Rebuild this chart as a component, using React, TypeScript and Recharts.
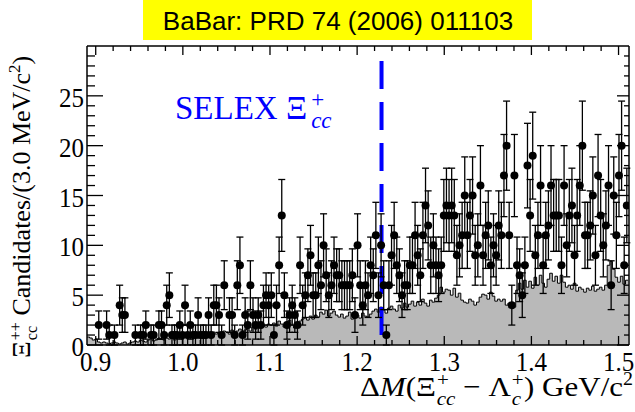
import React from "react";
import { Area, ComposedChart, ErrorBar, ReferenceLine, Scatter, XAxis, YAxis } from "recharts";

// 3 MeV bins starting at 0.89 GeV
const BIN_LO = 0.89;
const BIN_W = 0.003;
const X_MAX = 1.512;
const SELEX_DM = 1.228;

// data candidates per bin
const counts = [
  0, 0, 0, 0, 2, 0, 0, 2, 1, 0,
  1, 0, 4, 3, 3, 0, 0, 0, 1, 0,
  1, 1, 2, 0, 1, 1, 0, 2, 2, 1,
  4, 5, 1, 1, 1, 2, 1, 4, 1, 2,
  1, 1, 3, 1, 1, 1, 3, 1, 4, 4,
  3, 1, 6, 0, 3, 3, 1, 6, 8, 1,
  3, 2, 6, 3, 2, 3, 2, 4, 5, 4,
  5, 1, 4, 8, 13, 5, 2, 3, 4, 3,
  2, 8, 4, 5, 7, 9, 5, 5, 8, 6,
  10, 7, 5, 6, 8, 7, 7, 6, 6, 6,
  6, 7, 3, 10, 6, 4, 6, 5, 8, 7,
  11, 5, 10, 6, 1, 6, 9, 11, 8, 7,
  5, 6, 6, 8, 8, 11, 9, 7, 11, 14,
  12, 8, 10, 8, 7, 8, 13, 14, 13, 14,
  13, 9, 10, 11, 15, 11, 13, 15, 9, 10,
  16, 9, 11, 12, 8, 10, 9, 12, 11, 17,
  20, 11, 4, 17, 8, 7, 5, 8, 18, 13,
  19, 9, 11, 16, 8, 11, 12, 16, 13, 13,
  13, 8, 16, 10, 13, 14, 9, 13, 16, 20,
  11, 11, 12, 15, 9, 17, 13, 10, 12, 16,
  6, 15, 11, 17, 20, 8, 14,
];

// gray background histogram per bin
const background = [
  0.8, 0.7, 0.5, 0.6, 0.3, 0.2, 0.3, 0.2, 0.1, 0.2,
  0.3, 0.2, 0.1, 0.2, 0.3, 0.1, 0.2, 0.3, 0.4, 0.3,
  0.5, 0.4, 0.3, 0.5, 0.6, 0.4, 0.5, 0.7, 0.6, 0.5,
  0.7, 0.6, 0.8, 0.5, 0.7, 0.9, 0.6, 0.8, 0.7, 0.9,
  0.8, 1.0, 0.7, 0.9, 1.1, 0.8, 1.2, 1.0, 1.3, 1.1,
  1.2, 1.0, 1.4, 1.3, 1.1, 1.5, 1.2, 1.4, 1.6, 1.3,
  1.5, 1.7, 1.4, 1.8, 1.6, 1.9, 1.7, 2.0, 1.8, 2.1,
  2.0, 2.2, 1.9, 2.4, 2.1, 1.8, 2.3, 2.5, 2.0, 1.7,
  2.2, 2.4, 2.6, 2.7, 2.5, 2.9, 2.6, 3.0, 2.8, 3.3,
  3.1, 3.5, 2.9, 3.2, 3.4, 3.0, 2.8, 3.1, 2.7, 2.9,
  3.3, 2.6, 2.8, 3.0, 2.7, 3.2, 2.9, 2.8, 3.1, 3.4,
  3.6, 3.3, 3.8, 3.5, 3.2, 3.7, 3.9, 3.6, 3.4, 4.0,
  3.7, 4.2, 3.8, 4.1, 4.4, 3.9, 4.3, 4.0, 4.6, 4.2,
  3.9, 4.5, 4.3, 4.7, 5.0, 5.8, 5.3, 5.6, 5.5, 5.0,
  5.7, 4.8, 5.2, 4.5, 4.3, 4.2, 4.6, 4.4, 4.0, 4.3,
  4.8, 5.1, 5.0, 4.6, 5.3, 4.9, 4.4, 4.6, 4.4, 4.6,
  4.0, 4.2, 4.1, 3.8, 5.5, 6.2, 5.6, 6.5, 5.8, 6.4,
  5.7, 6.8, 6.0, 7.0, 6.2, 5.8, 6.6, 7.2, 6.4, 6.9,
  6.2, 7.0, 6.3, 5.8, 6.0, 5.6, 6.2, 5.4, 5.8, 5.6,
  5.3, 5.7, 5.5, 5.9, 5.4, 5.6, 5.8, 5.5, 6.0, 8.0,
  8.4, 7.6, 6.8, 6.3, 6.9, 6.1, 6.5,
];

const xTicks = [
  0.9, 0.92, 0.94, 0.96, 0.98, 1.0, 1.02, 1.04, 1.06, 1.08,
  1.1, 1.12, 1.14, 1.16, 1.18, 1.2, 1.22, 1.24, 1.26, 1.28,
  1.3, 1.32, 1.34, 1.36, 1.38, 1.4, 1.42, 1.44, 1.46, 1.48, 1.5,
];
const yTicks = [
  0, 1, 2, 3, 4, 5, 6, 7, 8, 9, 10, 11, 12, 13, 14, 15,
  16, 17, 18, 19, 20, 21, 22, 23, 24, 25, 26, 27, 28, 29,
];

const SERIF = "'Liberation Serif', 'DejaVu Serif', serif";
const W = 635;
const H = 412;

// histogram edges for the step area (last edge repeats last value)
const histData = background.map((v, i) => ({ x: BIN_LO + i * BIN_W, bg: v }));
histData.push({ x: BIN_LO + background.length * BIN_W, bg: background[background.length - 1] });

const points = counts
  .map((n, i) => ({ x: BIN_LO + (i + 0.5) * BIN_W, y: n, err: Math.sqrt(n) }))
  .filter((p) => p.y > 0);

const isMajorX = (v: number) => Math.abs(v * 10 - Math.round(v * 10)) < 1e-6;
const isMajorY = (v: number) => v % 5 === 0;

const BottomTick = (p: any) => {
  const v = p.payload.value;
  const major = isMajorX(v);
  return (
    <g>
      <line x1={p.x} x2={p.x} y1={p.y} y2={p.y - (major ? 9 : 5)} stroke="#000" strokeWidth={1.3} />
      {major && (
        <text
          transform={`translate(${p.x},${p.y + 26}) scale(1,1.1)`}
          textAnchor="middle"
          fontFamily={SERIF}
          fontSize={25}
          fill="#000"
        >
          {v.toFixed(1)}
        </text>
      )}
    </g>
  );
};

const TopTick = (p: any) => {
  const major = isMajorX(p.payload.value);
  return <line x1={p.x} x2={p.x} y1={p.y} y2={p.y + (major ? 9 : 5)} stroke="#000" strokeWidth={1.3} />;
};

const LeftTick = (p: any) => {
  const v = p.payload.value;
  const major = isMajorY(v);
  return (
    <g>
      <line x1={p.x} x2={p.x + (major ? 16 : 8)} y1={p.y} y2={p.y} stroke="#000" strokeWidth={1.3} />
      {major && (
        <text
          transform={`translate(${p.x - 3},${p.y + 11}) scale(1,1.12)`}
          textAnchor="end"
          fontFamily={SERIF}
          fontSize={25}
          fill="#000"
        >
          {v}
        </text>
      )}
    </g>
  );
};

const RightTick = (p: any) => {
  const major = isMajorY(p.payload.value);
  return <line x1={p.x} x2={p.x - (major ? 12 : 5)} y1={p.y} y2={p.y} stroke="#000" strokeWidth={1.3} />;
};

const Dot = (p: any) => <circle cx={p.cx} cy={p.cy} r={4} fill="#000" />;

function Overlay() {
  return (
    <svg width={W} height={H} style={{ position: "absolute", left: 0, top: 0, pointerEvents: "none" }}>
      <rect x={143} y={0} width={389} height={40} fill="#ffff00" />
      <text x={338} y={30} textAnchor="middle" fontFamily="'Liberation Sans', Arial, sans-serif" fontSize={26} fill="#000">
        BaBar: PRD 74 (2006) 011103
      </text>

      <text x={175} y={119} fontFamily={SERIF} fontSize={33} fill="#0000ff">
        SELEX Ξ
        <tspan dx={4} dy={-12} fontSize={23}>+</tspan>
        <tspan dx={-13} dy={21} fontSize={23} fontStyle="italic">cc</tspan>
      </text>

      <text transform="translate(30, 358) rotate(-90)" fontFamily={SERIF} fontSize={26} fill="#000">
        Ξ
        <tspan dx={1} dy={-9} fontSize={16}>++</tspan>
        <tspan dx={-18} dy={16} fontSize={16}>cc</tspan>
        <tspan dx={4} dy={-7}> Candidates/(3.0 MeV/c</tspan>
        <tspan dy={-10} fontSize={17}>2</tspan>
        <tspan dy={10}>)</tspan>
      </text>

      <text transform="translate(633, 396) scale(1, 0.9)" textAnchor="end" fontFamily={SERIF} fontSize={31} fill="#000">
        Δ<tspan fontStyle="italic">M</tspan>(Ξ
        <tspan dx={1} dy={-11} fontSize={21}>+</tspan>
        <tspan dx={-12} dy={21} fontSize={21} fontStyle="italic">cc</tspan>
        <tspan dy={-10}> − Λ</tspan>
        <tspan dx={1} dy={-11} fontSize={21}>+</tspan>
        <tspan dx={-12} dy={21} fontSize={21} fontStyle="italic">c</tspan>
        <tspan dx={3} dy={-10}>) GeV/c</tspan>
        <tspan dy={-12} fontSize={20}>2</tspan>
      </text>
    </svg>
  );
}

export default function App() {
  return (
    <div style={{ position: "absolute", left: 0, top: 0, width: W, height: H, background: "#fff" }}>
      <ComposedChart width={W} height={H} data={histData} margin={{ top: 16, right: 0, bottom: 0, left: 27 }}>
        <XAxis
          dataKey="x"
          type="number"
          domain={[BIN_LO, X_MAX]}
          allowDataOverflow
          ticks={xTicks}
          interval={0}
          tickSize={0}
          tickMargin={0}
          height={67}
          axisLine={{ stroke: "#000", strokeWidth: 1.5 }}
          tickLine={false}
          tick={BottomTick}
        />
        <XAxis
          xAxisId="top"
          orientation="top"
          dataKey="x"
          type="number"
          domain={[BIN_LO, X_MAX]}
          allowDataOverflow
          ticks={xTicks}
          interval={0}
          tickSize={0}
          tickMargin={0}
          height={30}
          axisLine={{ stroke: "#000", strokeWidth: 1.5 }}
          tickLine={false}
          tick={TopTick}
        />
        <YAxis
          type="number"
          domain={[0, 30]}
          allowDataOverflow
          ticks={yTicks}
          interval={0}
          tickSize={0}
          tickMargin={0}
          width={60}
          axisLine={{ stroke: "#000", strokeWidth: 1.5 }}
          tickLine={false}
          tick={LeftTick}
        />
        <YAxis
          yAxisId="right"
          orientation="right"
          type="number"
          domain={[0, 30]}
          allowDataOverflow
          ticks={yTicks}
          interval={0}
          tickSize={0}
          tickMargin={0}
          width={6}
          axisLine={{ stroke: "#000", strokeWidth: 1.5 }}
          tickLine={false}
          tick={RightTick}
        />
        <Area
          type="stepAfter"
          dataKey="bg"
          stroke="#000"
          strokeWidth={1}
          fill="#b9b9b9"
          fillOpacity={1}
          dot={false}
          activeDot={false}
          isAnimationActive={false}
        />
        <ReferenceLine
          segment={[{ x: SELEX_DM, y: 28.5 }, { x: SELEX_DM, y: 0 }]}
          stroke="#0000ff"
          strokeWidth={4}
          strokeDasharray="28 13"
        />
        <Scatter data={points} dataKey="y" shape={Dot} isAnimationActive={false}>
          <ErrorBar dataKey="err" direction="y" width={3.5} stroke="#000" strokeWidth={1.3} isAnimationActive={false} />
        </Scatter>
      </ComposedChart>
      <Overlay />
    </div>
  );
}
